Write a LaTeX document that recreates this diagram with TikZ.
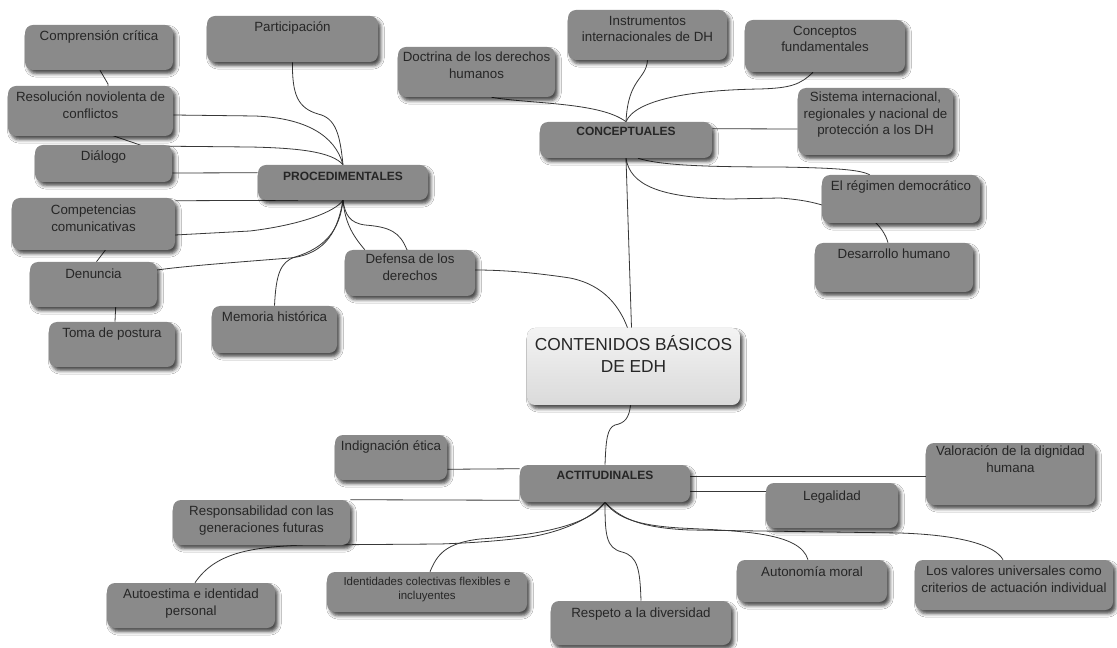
\documentclass[tikz,border=0pt]{standalone}
\usepackage{fontspec}
\setmainfont{Liberation Sans}
\usetikzlibrary{calc,fit,backgrounds,shadows.blur}
\definecolor{boxgrey}{HTML}{8A8A8A}
\definecolor{inkgrey}{HTML}{262626}
\definecolor{linegrey}{HTML}{383838}
\definecolor{hubtop}{HTML}{F3F3F3}
\definecolor{hubbot}{HTML}{DADADA}
\tikzset{
  box/.style={rounded corners=6pt, fill=boxgrey, inner sep=0pt,
    blur shadow={shadow xshift=2.2pt, shadow yshift=-2.8pt, shadow blur radius=2.5pt, shadow opacity=70}},
  hubbox/.style={box, top color=hubtop, bottom color=hubbot},
  lbl/.style={inner sep=0pt, align=center, text=inkgrey, font=\fontsize{10}{12.4}\selectfont},
  head/.style={lbl, font=\fontsize{9}{10}\selectfont\bfseries},
  title/.style={lbl, font=\fontsize{13}{16.5}\selectfont},
  tiny/.style={lbl, font=\fontsize{8.6}{11}\selectfont},
  conn/.style={draw=linegrey, line width=0.6pt, line join=round},
}
% name, x1, y1, x2, y2, text offset, box style, label style, text
\newcommand\mmbox[9]{%
  \node[#7, fit={(#2,#3)(#4,#5)}] (#1) {};
  \node[#8, anchor=north] (#1-t) at ($(#1.north)+(0,#6)$) {#9};}
\begin{document}
\begin{tikzpicture}[x=0.75pt,y=-0.75pt]
\useasboundingbox (0,0) rectangle (1117,648);

% procedimentales branch
\mmbox{compr}{25}{25}{173}{70}{6}{box}{lbl}{Comprensión crítica}
\mmbox{part}{207}{16}{378}{62}{6}{box}{lbl}{Participación}
\mmbox{resol}{8}{86}{173}{136}{6}{box}{lbl}{Resolución noviolenta de\\conflictos}
\mmbox{dial}{35}{145}{172}{182}{6}{box}{lbl}{Diálogo}
\mmbox{proc}{258}{165}{428}{200}{7}{box}{head}{PROCEDIMENTALES}
\mmbox{comp}{12}{198}{175}{250}{7}{box}{lbl}{Competencias\\comunicativas}
\mmbox{denun}{30}{262}{157}{307}{7}{box}{lbl}{Denuncia}
\mmbox{toma}{49}{322}{175}{367}{6}{box}{lbl}{Toma de postura}
\mmbox{mem}{212}{306}{337}{353}{6}{box}{lbl}{Memoria histórica}
\mmbox{defen}{345}{250}{475}{296}{4}{box}{lbl}{Defensa de los\\derechos}

% conceptuales branch
\mmbox{doct}{398}{47}{555}{97}{5}{box}{lbl}{Doctrina de los derechos\\humanos}
\mmbox{instr}{568}{10}{727}{60}{6}{box}{lbl}{Instrumentos\\internacionales de DH}
\mmbox{concf}{745}{20}{905}{72}{6}{box}{lbl}{Conceptos\\fundamentales}
\mmbox{conc}{540}{122}{712}{158}{5}{box}{head}{CONCEPTUALES}
\mmbox{sist}{798}{88}{953}{155}{4}{box}{lbl}{Sistema internacional,\\regionales y nacional de\\protección a los DH}
\mmbox{regim}{822}{175}{980}{223}{6}{box}{lbl}{El régimen democrático}
\mmbox{desarr}{815}{243}{973}{292}{6}{box}{lbl}{Desarrollo humano}

% central topic
\mmbox{central}{527}{328}{740}{405}{7}{hubbox}{title}{CONTENIDOS BÁSICOS\\DE EDH}

% actitudinales branch
\mmbox{actit}{520}{465}{690}{502}{6}{box}{head}{ACTITUDINALES}
\mmbox{indig}{335}{435}{447}{480}{6}{box}{lbl}{Indignación ética}
\mmbox{resp}{173}{500}{350}{545}{6}{box}{lbl}{Responsabilidad con las\\generaciones futuras}
\mmbox{autoest}{107}{583}{275}{628}{6}{box}{lbl}{Autoestima e identidad\\personal}
\mmbox{ident}{327}{572}{527}{612}{5}{box}{tiny}{Identidades colectivas flexibles e\\incluyentes}
\mmbox{valor}{926}{443}{1095}{505}{3}{box}{lbl}{Valoración de la dignidad\\humana}
\mmbox{legal}{766}{483}{898}{528}{8}{box}{lbl}{Legalidad}
\mmbox{auton}{737}{560}{887}{602}{7}{box}{lbl}{Autonomía moral}
\mmbox{losval}{915}{560}{1113}{610}{6}{box}{lbl}{Los valores universales como\\criterios de actuación individual}
\mmbox{respeto}{551}{601}{731}{645}{7}{box}{lbl}{Respeto a la diversidad}

\begin{scope}[on background layer]
\fill[white] (0,0) rectangle (1117,648);

% procedimentales links
\draw[conn] (part.south) .. controls (292,95) and (298,108) .. (318,114) .. controls (336,118) and (340,135) .. (proc.north);
\draw[conn] ($(resol.east)+(0,4)$) -- (255,116) .. controls (305,118) and (335,135) .. (proc.north);
\draw[conn] ($(compr.south)+(1,0)$) -- (108,84) -- (108,134) -- (143,146) -- (250,147) .. controls (300,148) and (332,152) .. (proc.north);
\draw[conn] ($(dial.east)+(0,9.5)$) -- ($(proc.north west)+(0,8)$);
\draw[conn] ($(comp.north east)+(0,3)$) -- ($(proc.south)+(-45,0)$);
\draw[conn] ($(denun.north)+(3,0)$) -- (110,244) -- (160,236) -- (175,235) -- (250,231) .. controls (300,225) and (335,212) .. (proc.south);
\draw[conn] ($(toma.north)+(3,0)$) -- (116,300) -- (150,270) -- (157,270) .. controls (185,266) and (240,262) .. (290,258) .. controls (328,254) and (338,228) .. (proc.south);
\draw[conn] (mem.north) .. controls (276,275) and (280,262) .. (295,257) .. controls (325,248) and (340,230) .. (proc.south);
\draw[conn] ($(defen.north west)+(20,0)$) .. controls (355,238) and (345,225) .. (proc.south);
\draw[conn] ($(central.north)+(-6,0)$) .. controls (620,308) and (605,285) .. (570,278) .. controls (530,272) and (500,270) .. (475,270) -- (407,250) .. controls (400,232) and (390,227) .. (365,225) .. controls (350,223) and (345,215) .. (proc.south);

% conceptuales links
\draw[conn] ($(doct.south)+(15,0)$) .. controls (530,104) and (600,102) .. (conc.north);
\draw[conn] (instr.south) .. controls (646,80) and (628,78) .. (conc.north);
\draw[conn] ($(concf.south)+(-12,0)$) .. controls (800,85) and (790,88) .. (760,89) .. controls (690,90) and (635,100) .. (conc.north);
\draw[conn] ($(conc.north east)+(0,7)$) -- ($(sist.west)+(0,7.5)$);
\draw[conn] ($(conc.south)+(12,0)$) .. controls (660,165) and (700,167) .. (780,167) .. controls (840,168) and (860,170) .. ($(regim.north west)+(48,0)$);
\draw[conn] (conc.south) .. controls (630,185) and (660,198) .. (730,199) -- (780,198) .. controls (805,200) and (815,203) .. (822,205) -- (870,218) .. controls (880,225) and (886,235) .. ($(desarr.north)+(-6,0)$);
\draw[conn] (conc.south) -- ($(central.north)+(-2,0)$);

% central to actitudinales
\draw[conn] ($(central.south)+(-3,0)$) .. controls (629,418) and (625,423) .. (615,425) .. controls (607,428) and (606,440) .. (actit.north);

% actitudinales links
\draw[conn] ($(indig.south east)+(0,-11)$) -- ($(actit.north west)+(0,4)$);
\draw[conn] (resp.north east) -- ($(actit.south west)+(0,-2)$);
\draw[conn] ($(actit.north east)+(0,12)$) -- ($(valor.north west)+(0,34)$);
\draw[conn] ($(actit.north east)+(0,27)$) -- ($(legal.north west)+(0,9)$);
\draw[conn] (actit.south) .. controls (590,520) and (560,532) .. (530,537) .. controls (500,541) and (470,543) .. (440,544) -- (305,545) .. controls (250,547) and (215,553) .. ($(autoest.north)+(4,0)$);
\draw[conn] ($(ident.north)+(3,0)$) .. controls (437,555) and (445,543) .. (480,539) .. controls (540,535) and (590,525) .. (actit.south);
\draw[conn] (actit.south) .. controls (605,535) and (606,548) .. (622,552) .. controls (638,556) and (640,570) .. (respeto.north);
\draw[conn] (actit.south) .. controls (615,515) and (630,525) .. (680,528) .. controls (740,531) and (800,532) .. ($(auton.north)+(-4,0)$);
\draw[conn] (actit.south) .. controls (620,518) and (640,528) .. (690,530) -- (900,533) .. controls (960,535) and (995,545) .. ($(losval.north)+(-11,0)$);
\end{scope}
\end{tikzpicture}
\end{document}
